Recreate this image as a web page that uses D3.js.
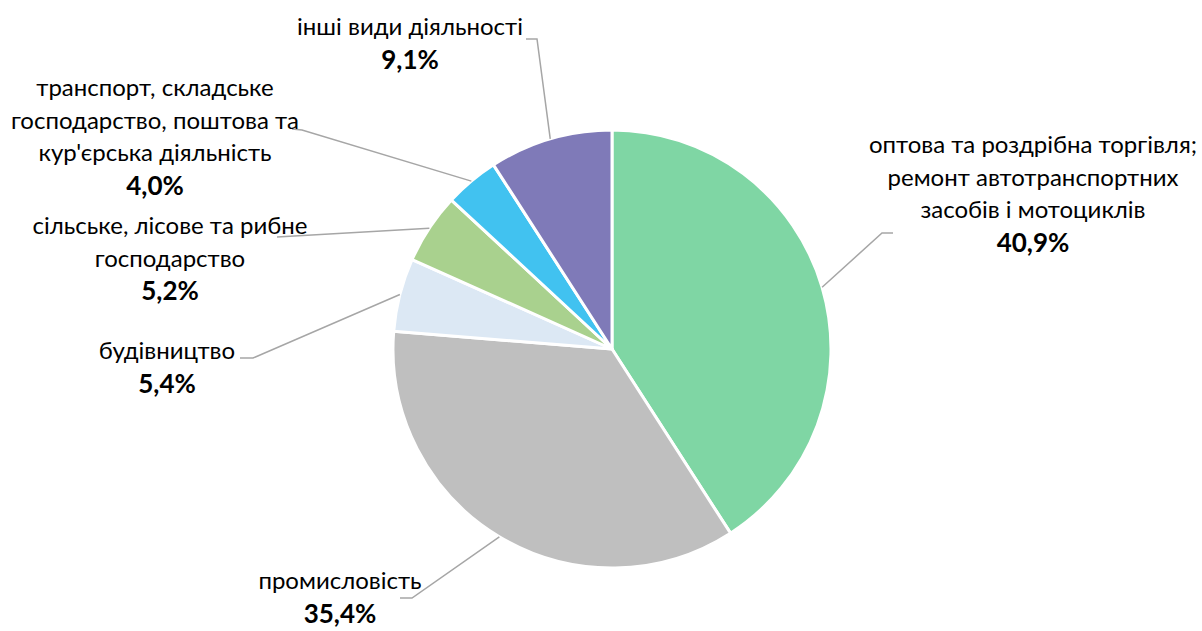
<!DOCTYPE html>
<html>
<head>
<meta charset="utf-8">
<script src="https://cdn.jsdelivr.net/npm/d3@7"></script>
<style>
  body { margin: 0; background: #fff; }
  svg text { font-family: Lato, "Noto Sans", sans-serif; fill: #000; }
</style>
</head>
<body>
<div id="chart"></div>
<script>
// data
const categories = [
  ["оптова та роздрібна торгівля;", "ремонт автотранспортних", "засобів і мотоциклів"],
  ["промисловість"],
  ["будівництво"],
  ["сільське, лісове та рибне", "господарство"],
  ["транспорт, складське", "господарство, поштова та", "кур'єрська діяльність"],
  ["інші види діяльності"]
];
const shares = [40.9, 35.4, 5.4, 5.2, 4.0, 9.1];
const colors = ["#7fd6a4", "#bfbfbf", "#dce8f4", "#a9d18e", "#41c2f0", "#7f7ab8"];

// label layout: centre x, centre y of first line, leader elbow/end points
const labelLayout = [
  { x: 1033, y: 145, leader: [[882, 233], [893, 233]] },
  { x: 340, y: 581, leader: [[412, 598], [400, 598]] },
  { x: 167, y: 351, leader: [[253, 358], [240, 358]] },
  { x: 170, y: 226, leader: [[277, 237]] },
  { x: 155, y: 88, leader: [[302, 130], [292, 129]] },
  { x: 410, y: 27, leader: [[537, 39], [526, 39]] }
];

const width = 1202, height = 631;
const cx = 612, cy = 349, radius = 219;
const lineH = 32.5;

const svg = d3.select("#chart").append("svg")
  .attr("width", width)
  .attr("height", height);

const pie = d3.pie().sort(null).value(d => d)(shares);
const arc = d3.arc().innerRadius(0).outerRadius(radius);

const g = svg.append("g").attr("transform", `translate(${cx},${cy})`);

g.selectAll("path.slice")
  .data(pie)
  .enter()
  .append("path")
  .attr("class", "slice")
  .attr("d", arc)
  .attr("fill", (d, i) => colors[i])
  .attr("stroke", "#fff")
  .attr("stroke-width", 3)
  .attr("stroke-linejoin", "round");

// leader lines from arc edge at slice mid-angle
const line = d3.line();
pie.forEach((d, i) => {
  const a = (d.startAngle + d.endAngle) / 2;
  const start = [cx + radius * Math.sin(a), cy - radius * Math.cos(a)];
  svg.append("path")
    .attr("d", line([start, ...labelLayout[i].leader]))
    .attr("fill", "none")
    .attr("stroke", "#a6a6a6")
    .attr("stroke-width", 1.5);
});

// labels
categories.forEach((lines, i) => {
  const lay = labelLayout[i];
  const t = svg.append("text")
    .attr("text-anchor", "middle")
    .attr("font-size", 24);
  lines.forEach((s, k) => {
    t.append("tspan")
      .attr("x", lay.x)
      .attr("y", lay.y + k * lineH)
      .attr("dy", "0.35em")
      .text(s);
  });
  t.append("tspan")
    .attr("x", lay.x)
    .attr("y", lay.y + lines.length * lineH)
    .attr("dy", "0.35em")
    .attr("font-weight", "bold")
    .attr("font-size", 26)
    .text(shares[i].toFixed(1).replace(".", ",") + "%");
});
</script>
</body>
</html>
